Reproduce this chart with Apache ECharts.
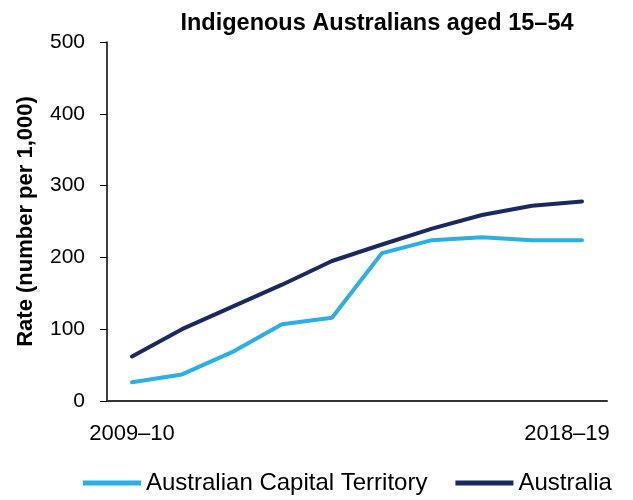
<!DOCTYPE html>
<html>
<head>
<meta charset="utf-8">
<script src="https://cdn.jsdelivr.net/npm/echarts@6/dist/echarts.min.js"></script>
<style>
  html, body { margin: 0; padding: 0; background: #fff; }
  #chart { width: 633px; height: 500px; }
</style>
</head>
<body>
<div id="chart"></div>
<script>
// data
const years = ['2009–10', '2010–11', '2011–12', '2012–13', '2013–14',
  '2014–15', '2015–16', '2016–17', '2017–18', '2018–19']
const actRates = [26, 37, 68, 107, 116, 206, 224, 228, 224, 224]
const ausRates = [62, 100, 131, 162, 195, 218, 240, 259, 272, 278]
const seriesNames = ['Australian Capital Territory', 'Australia']

const chart = echarts.init(document.getElementById('chart'))
const option = {
  animation: false,
  title: {
    text: 'Indigenous Australians aged 15–54',
    left: 372,
    top: 7,
    textAlign: 'center',
    textStyle: {
      fontFamily: 'Liberation Sans',
      fontSize: 23.5,
      fontWeight: 'bold',
      color: '#000'
    }
  },
  legend: {
    data: seriesNames,
    bottom: 0,
    left: 78,
    itemWidth: 58,
    itemHeight: 5,
    itemGap: 28,
    icon: 'rect',
    textStyle: {
      fontFamily: 'Liberation Sans',
      fontSize: 24,
      color: '#000'
    }
  },
  grid: {
    left: 107,
    right: 26,
    top: 42,
    bottom: 99
  },
  xAxis: {
    type: 'category',
    data: years,
    boundaryGap: true,
    axisLine: { lineStyle: { color: '#333', width: 2 } },
    axisTick: { show: false },
    axisLabel: {
      interval: 0,
      margin: 22,
      fontFamily: 'Liberation Sans',
      fontSize: 22,
      color: '#000',
      formatter: function (v, i) {
        if (i === 0) return v
        if (i === years.length - 1) return '{last|' + v + '}'
        return ''
      },
      rich: {
        last: {
          fontFamily: 'Liberation Sans',
          fontSize: 22,
          color: '#000',
          padding: [0, 30, 0, 0]
        }
      }
    }
  },
  yAxis: {
    type: 'value',
    min: 0,
    max: 500,
    interval: 100,
    name: 'Rate (number per 1,000)',
    nameLocation: 'middle',
    nameGap: 70,
    nameTextStyle: {
      fontFamily: 'Liberation Sans',
      fontSize: 22,
      fontWeight: 'bold',
      color: '#000'
    },
    axisLine: { show: true, lineStyle: { color: '#000', width: 1.5 } },
    axisTick: { show: true, length: 7, lineStyle: { color: '#000' } },
    splitLine: { show: false },
    axisLabel: {
      margin: 22,
      fontFamily: 'Liberation Sans',
      fontSize: 21,
      color: '#000'
    }
  },
  series: [
    {
      name: seriesNames[0],
      type: 'line',
      data: actRates,
      symbol: 'none',
      color: '#2AB0E6',
      lineStyle: { width: 4, cap: 'round' }
    },
    {
      name: seriesNames[1],
      type: 'line',
      data: ausRates,
      symbol: 'none',
      color: '#1B2A5E',
      lineStyle: { width: 4, cap: 'round' }
    }
  ]
}
chart.setOption(option)
</script>
</body>
</html>
